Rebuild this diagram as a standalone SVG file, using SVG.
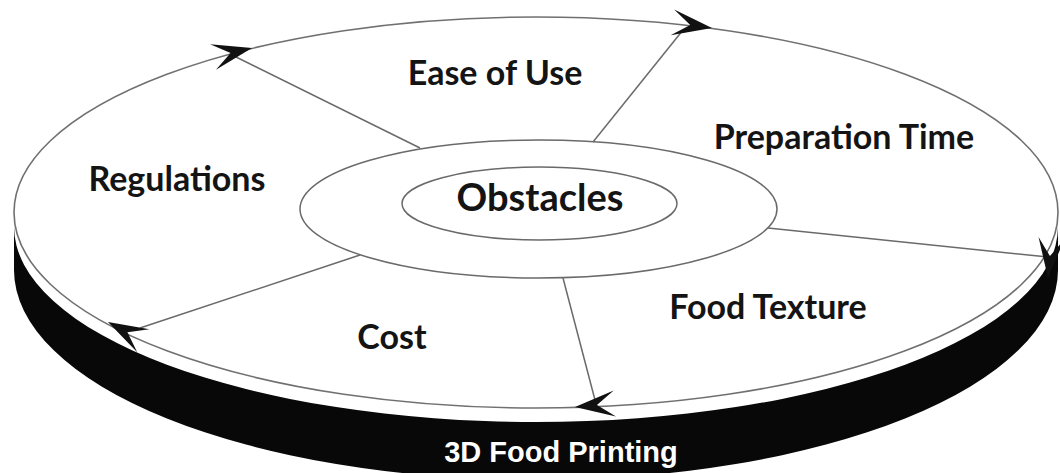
<svg xmlns="http://www.w3.org/2000/svg" width="1060" height="473" viewBox="0 0 1060 473">
  <style>
    .lbl { font-family: Lato, "Open Sans", "Liberation Sans", sans-serif; font-weight: 700; fill: #141414; text-anchor: middle; }
    .ring { fill: none; stroke: #6a6a6a; stroke-width: 1.5; }
    .conn { stroke: #6a6a6a; stroke-width: 1.5; fill: none; }
    .head { fill: #111; }
  </style>
  <defs>
    <path id="ah" d="M0,0 L-40,-13 L-22,0 L-40,13 Z"/>
  </defs>
  <rect width="1060" height="473" fill="#ffffff"/>
  <g id="disc">
    <path d="M14,226.5 L14,270 A522,210 0 0 0 1058,270 L1058,226.5 A522,195.5 0 0 1 14,226.5 Z" fill="#080808"/>
    <ellipse cx="536" cy="212.5" rx="522" ry="195.5" fill="#ffffff" stroke="#707070" stroke-width="1.6"/>
    <text x="561" y="462" font-family="'Liberation Sans', Arial, sans-serif" font-weight="700" font-size="29" fill="#ffffff" text-anchor="middle">3D Food Printing</text>
  </g>
  <g id="connectors">
    <line class="conn" x1="420" y1="148" x2="234" y2="56"/>
    <line class="conn" x1="593" y1="142" x2="683" y2="30"/>
    <line class="conn" x1="768" y1="228" x2="1048" y2="257"/>
    <line class="conn" x1="563" y1="278" x2="595" y2="400"/>
    <line class="conn" x1="360" y1="255" x2="140" y2="328"/>
    <use href="#ah" class="head" transform="translate(252,48) rotate(-13)"/>
    <use href="#ah" class="head" transform="translate(712,28) rotate(8)"/>
    <use href="#ah" class="head" transform="translate(1048,278) rotate(95)"/>
    <use href="#ah" class="head" transform="translate(575,407) rotate(175)"/>
    <use href="#ah" class="head" transform="translate(108,322) rotate(208)"/>
  </g>
  <g id="obstacles">
    <ellipse class="ring" cx="538.5" cy="209" rx="238.5" ry="69" fill="#ffffff"/>
    <ellipse class="ring" cx="539.5" cy="203.5" rx="137.5" ry="36.5"/>
    <text class="lbl" x="540" y="211" font-size="38">Obstacles</text>
  </g>
  <g id="ease-of-use"><text class="lbl" x="495" y="85" font-size="34">Ease of Use</text></g>
  <g id="preparation-time"><text class="lbl" x="844" y="149" font-size="34">Preparation Time</text></g>
  <g id="regulations"><text class="lbl" x="177" y="191" font-size="34">Regulations</text></g>
  <g id="food-texture"><text class="lbl" x="768" y="319" font-size="34">Food Texture</text></g>
  <g id="cost"><text class="lbl" x="392" y="349" font-size="34">Cost</text></g>
</svg>
